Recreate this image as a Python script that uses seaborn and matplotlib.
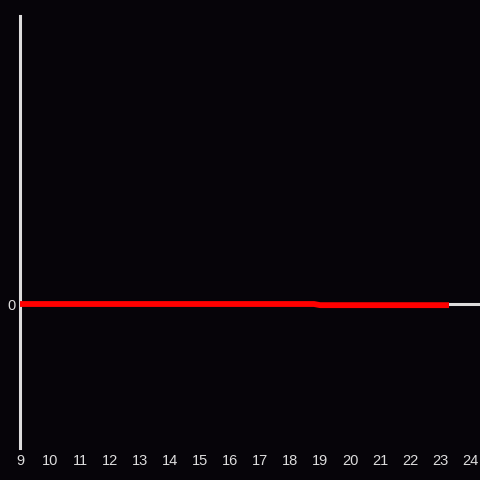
import numpy as np
import pandas as pd
import matplotlib
matplotlib.use("Agg")
import matplotlib.pyplot as plt
import seaborn as sns

# hours along the day and the (near-zero) series value
hours = [9, 10, 11, 12, 13, 14, 15, 16, 17, 18, 18.8, 19, 20, 21, 22, 23, 23.3]
values = [0, 0, 0, 0, 0, 0, 0, 0, 0, 0, 0, -0.008, -0.008, -0.008, -0.008, -0.008, -0.008]
tick_hours = list(range(9, 25))

bg = "#060409"
fg = "#dddddd"

sns.set_theme(style="dark")
plt.rcParams["font.family"] = ["Liberation Sans", "DejaVu Sans"]

df = pd.DataFrame({"hour": hours, "value": values})

fig = plt.figure(figsize=(4.8, 4.8), dpi=100, facecolor=bg)
ax = fig.add_axes([20 / 480, 32 / 480, 460 / 480, 432 / 480])
ax.set_facecolor(bg)

ax.axhline(0, color=fg, lw=2.2, zorder=1)
sns.lineplot(data=df, x="hour", y="value", ax=ax, color="#ff0000", lw=4.2,
             zorder=3, solid_capstyle="butt")

ax.set_xlim(9, 24.333)
ax.set_ylim(-1, 2)
ax.set_xticks(tick_hours)
ax.set_xticklabels([str(h) for h in tick_hours])
ax.set_yticks([0])
ax.set_yticklabels(["0"])
ax.tick_params(colors=fg, labelsize=10.5, length=0)
ax.tick_params(axis="x", pad=4)
ax.tick_params(axis="y", pad=3)
ax.set_xlabel("")
ax.set_ylabel("")
ax.grid(False)

for s in ["top", "right", "bottom"]:
    ax.spines[s].set_visible(False)
ax.spines["left"].set_color(fg)
ax.spines["left"].set_linewidth(2.2)

fig.savefig("out.png", dpi=100, facecolor=bg)
